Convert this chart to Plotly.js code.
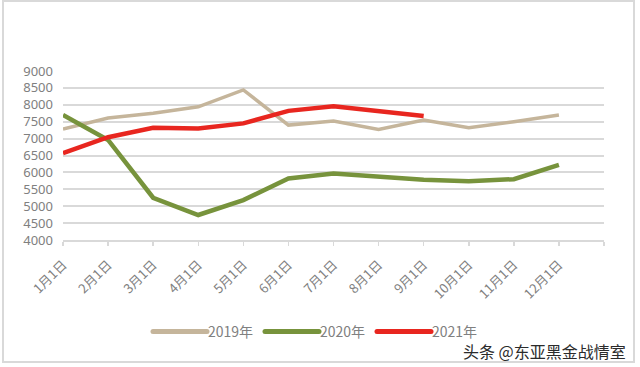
<!DOCTYPE html>
<html><head><meta charset="utf-8">
<script src="https://cdn.plot.ly/plotly-3.0.1.min.js"></script>
<style>html,body{margin:0;padding:0;background:#fff}#c{width:640px;height:367px}</style>
</head><body><div id="c"></div>
<script>
const months = ['1月1日','2月1日','3月1日','4月1日','5月1日','6月1日','7月1日','8月1日','9月1日','10月1日','11月1日','12月1日'];
const s2019 = [7280, 7610, 7750, 7940, 8440, 7400, 7520, 7270, 7550, 7320, 7500, 7700];
const s2020 = [7700, 6960, 5250, 4740, 5180, 5820, 5970, 5890, 5780, 5740, 5800, 6220];
const s2021 = [6570, 7040, 7320, 7300, 7450, 7820, 7960, 7820, 7670];
const names = ['2019年','2020年','2021年'];
const colors = ['#C5B59B','#77933C','#E8261F'];

const xs = months.map((m,i)=>i);
const mk = (y,i,w)=>({x: xs.slice(0,y.length), y: y, type:'scatter', mode:'lines', name: names[i],
  line:{color: colors[i], width: w}});
const traces = [mk(s2019,0,3.5), mk(s2020,1,4.5), mk(s2021,2,4.5)];

const L=63, R=604, T=71, B=240;
const px = v => (v-L)/(R-L), py = v => (B-v)/(B-T);

const layout = {
  width:640, height:367,
  margin:{l:L, r:640-R, t:T, b:367-B},
  paper_bgcolor:'#fff', plot_bgcolor:'#fff',
  font:{family:'"Noto Sans", "Noto Sans CJK SC", sans-serif', color:'#808080'},
  xaxis:{range:[0,12], tickvals:xs.concat([12]), ticktext:months.concat(['']), tickangle:-45,
    showgrid:false, zeroline:false, showline:true, linecolor:'#d9d9d9', linewidth:2,
    ticks:'outside', ticklen:4, tickcolor:'#d9d9d9', tickwidth:1.5, ticklabelstandoff:6,
    tickfont:{size:13, color:'#808080', family:'"Noto Sans CJK SC", sans-serif'}},
  yaxis:{range:[4000,9000], dtick:500, showgrid:true, gridcolor:'#d9d9d9', gridwidth:2,
    zeroline:false, showline:false, ticks:'', ticklabelstandoff:9,
    tickfont:{size:13, color:'#808080'}},
  showlegend:true,
  legend:{orientation:'h', x:px(318), xanchor:'center', y:py(332), yanchor:'middle',
    font:{size:14, color:'#808080', family:'"Noto Sans CJK SC", sans-serif'},
    entrywidth:67, entrywidthmode:'pixels', tracegroupgap:0},
  annotations:[{xref:'paper', yref:'paper', x:px(628), y:py(351), xanchor:'right', yanchor:'middle',
    text:'头条 @东亚黑金战情室', showarrow:false, font:{size:16, color:'#2b2b2b', family:'"Noto Sans CJK SC", sans-serif'}}],
  shapes:[{type:'rect', xref:'paper', yref:'paper', x0:px(3), x1:px(634), y0:py(1), y1:py(362),
    line:{color:'#d9d9d9', width:2}, fillcolor:'rgba(0,0,0,0)', layer:'below'}]
};
Plotly.newPlot('c', traces, layout, {staticPlot:true, displayModeBar:false}).then(gd=>{
  // lengthen legend line samples like the original (about 57px, round caps)
  gd.querySelectorAll('.legend .traces').forEach(tr=>{
    tr.querySelectorAll('.legendlines path').forEach(p=>{
      p.setAttribute('d','M3,0h54'); p.style.strokeLinecap='round'; p.style.strokeWidth='5px';
    });
    const t = tr.querySelector('text.legendtext');
    if (t) t.setAttribute('x', 58);
  });
});
</script></body></html>
